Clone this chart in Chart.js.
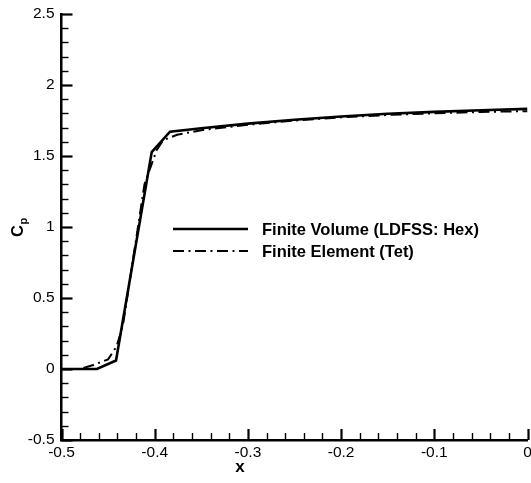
<!DOCTYPE html>
<html>
<head>
<meta charset="utf-8">
<script src="https://cdn.jsdelivr.net/npm/chart.js@4/dist/chart.umd.min.js"></script>
<style>
  html, body { margin: 0; padding: 0; background: #fff; }
  #wrap { width: 531px; height: 483px; position: relative; }
</style>
</head>
<body>
<div id="wrap"><canvas id="cpChart"></canvas></div>
<script>
const xTicks = [-0.5, -0.4, -0.3, -0.2, -0.1, 0];
const xTickLabels = ['-0.5', '-0.4', '-0.3', '-0.2', '-0.1', '0'];
const yTicks = [-0.5, 0, 0.5, 1, 1.5, 2, 2.5];
const yTickLabels = ['-0.5', '0', '0.5', '1', '1.5', '2', '2.5'];

// finite volume (LDFSS: Hex)
const fvX = [-0.5, -0.462, -0.4415, -0.4032, -0.3836, -0.35, -0.3, -0.25, -0.2, -0.15, -0.1, -0.05, 0];
const fvY = [0, 0, 0.06, 1.528, 1.671, 1.695, 1.728, 1.755, 1.778, 1.797, 1.811, 1.822, 1.832];

// finite element (Tet)
const feX = [-0.5, -0.48, -0.466, -0.45, -0.441, -0.434, -0.411, -0.398, -0.391, -0.376, -0.35, -0.3, -0.25, -0.2, -0.15, -0.1, -0.05, 0];
const feY = [0, 0, 0.028, 0.068, 0.158, 0.31, 1.30, 1.54, 1.61, 1.65, 1.682, 1.72, 1.75, 1.772, 1.789, 1.801, 1.81, 1.816];

const seriesNames = ['Finite Volume (LDFSS: Hex)', 'Finite Element (Tet)'];
const FONT = '"Liberation Sans", Arial, Helvetica, sans-serif';
const DASH_DOT = [11, 4.5, 2, 4.5];

function toPoints(xs, ys) {
  return xs.map((x, i) => ({ x: x, y: ys[i] }));
}

// inward major/minor ticks, drawn off the library scales
const tickPlugin = {
  id: 'inwardTicks',
  afterDraw(chart) {
    const ctx = chart.ctx;
    const xs = chart.scales.x, ys = chart.scales.y;
    const area = chart.chartArea;
    ctx.save();
    ctx.strokeStyle = '#000';
    for (let i = 0; i <= 25; i++) {
      const v = -0.5 + i * 0.02;
      const major = i % 5 === 0;
      const px = Math.round(xs.getPixelForValue(v)) + 0.5;
      ctx.lineWidth = major ? 2.2 : 1.4;
      ctx.beginPath();
      ctx.moveTo(px, area.bottom);
      ctx.lineTo(px, area.bottom - (major ? 11 : 7));
      ctx.stroke();
    }
    for (let i = 0; i <= 30; i++) {
      const v = -0.5 + i * 0.1;
      const major = i % 5 === 0;
      const py = Math.round(ys.getPixelForValue(v)) + 0.5;
      ctx.lineWidth = major ? 2.2 : 1.4;
      ctx.beginPath();
      ctx.moveTo(area.left, py);
      ctx.lineTo(area.left + (major ? 11 : 7), py);
      ctx.stroke();
    }
    ctx.restore();
  }
};

// axis titles and in-plot legend
const labelPlugin = {
  id: 'labels',
  afterDraw(chart) {
    const ctx = chart.ctx;
    ctx.save();
    ctx.fillStyle = '#000';

    ctx.font = 'bold 17px ' + FONT;
    ctx.textAlign = 'center';
    ctx.textBaseline = 'middle';
    ctx.fillText('x', 240, 467);

    // C with subscript p, rotated
    ctx.translate(23, 229);
    ctx.rotate(-Math.PI / 2);
    ctx.textAlign = 'left';
    ctx.textBaseline = 'alphabetic';
    ctx.font = 'bold 16.5px ' + FONT;
    ctx.fillText('C', -8, 0);
    ctx.font = 'bold 11px ' + FONT;
    ctx.fillText('p', 4.5, 4);
    ctx.setTransform(1, 0, 0, 1, 0, 0);

    const rows = [
      { y: 229, dash: [], width: 2.6 },
      { y: 251, dash: DASH_DOT, width: 2.0 }
    ];
    rows.forEach((r, i) => {
      ctx.strokeStyle = '#000';
      ctx.lineWidth = r.width;
      ctx.setLineDash(r.dash);
      ctx.beginPath();
      ctx.moveTo(173, r.y);
      ctx.lineTo(248, r.y);
      ctx.stroke();
      ctx.setLineDash([]);
      ctx.font = 'bold 16.5px ' + FONT;
      ctx.textAlign = 'left';
      ctx.textBaseline = 'middle';
      ctx.fillText(seriesNames[i], 262, r.y + 1.5);
    });
    ctx.restore();
  }
};

const ctx = document.getElementById('cpChart').getContext('2d');
new Chart(ctx, {
  type: 'line',
  data: {
    datasets: [
      {
        label: seriesNames[0],
        data: toPoints(fvX, fvY),
        borderColor: '#000',
        borderWidth: 2.6,
        pointRadius: 0,
        tension: 0,
        fill: false
      },
      {
        label: seriesNames[1],
        data: toPoints(feX, feY),
        borderColor: '#000',
        borderWidth: 2.0,
        borderDash: DASH_DOT,
        pointRadius: 0,
        tension: 0,
        fill: false
      }
    ]
  },
  options: {
    responsive: true,
    maintainAspectRatio: false,
    animation: false,
    layout: { padding: { top: 14, right: 3.5, left: 0, bottom: 0 } },
    plugins: {
      legend: { display: false },
      tooltip: { enabled: false }
    },
    scales: {
      x: {
        type: 'linear',
        min: -0.5,
        max: 0,
        afterBuildTicks: s => { s.ticks = xTicks.map(v => ({ value: v })); },
        afterFit: s => { s.height = 43; },
        ticks: {
          autoSkip: false,
          maxRotation: 0,
          padding: -5,
          color: '#000',
          font: { family: FONT, size: 15.5 },
          callback: (v) => xTickLabels[xTicks.findIndex(t => Math.abs(t - v) < 1e-9)]
        },
        grid: { display: false },
        border: { display: true, color: '#000', width: 2.5 }
      },
      y: {
        type: 'linear',
        min: -0.5,
        max: 2.5,
        afterBuildTicks: s => { s.ticks = yTicks.map(v => ({ value: v })); },
        afterFit: s => { s.width = 61.5; },
        ticks: {
          autoSkip: false,
          padding: -1,
          color: '#000',
          font: { family: FONT, size: 15.5 },
          callback: (v) => yTickLabels[yTicks.findIndex(t => Math.abs(t - v) < 1e-9)]
        },
        grid: { display: false },
        border: { display: true, color: '#000', width: 2.5 }
      }
    }
  },
  plugins: [tickPlugin, labelPlugin]
});
</script>
</body>
</html>
